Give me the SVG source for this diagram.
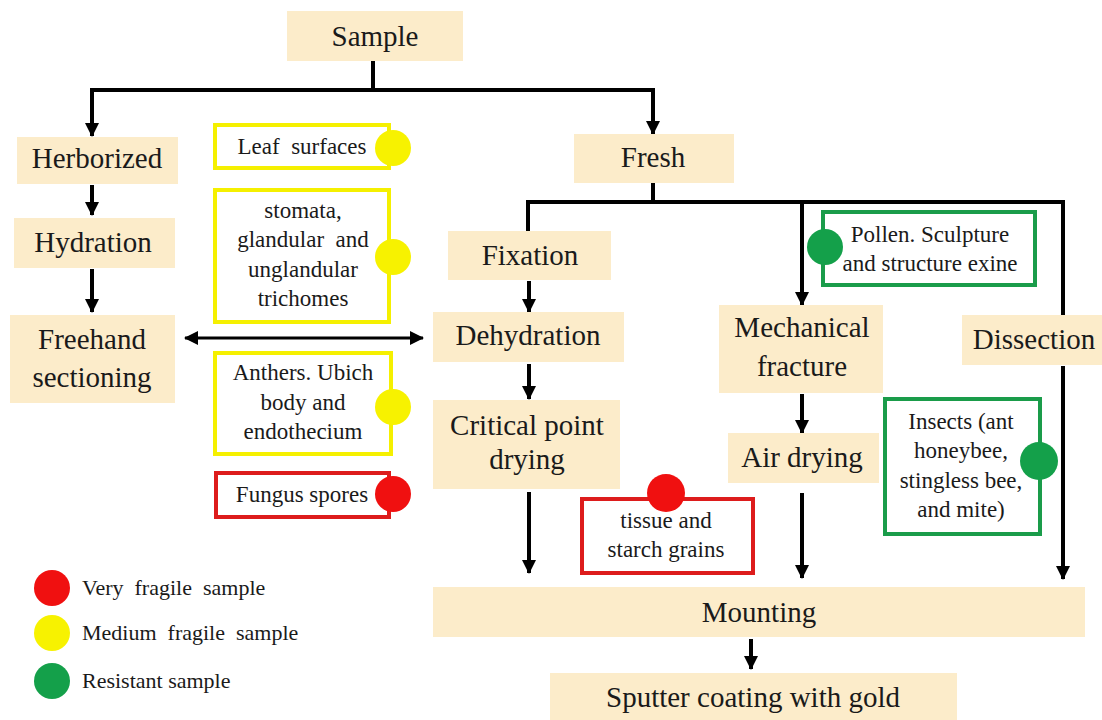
<svg xmlns="http://www.w3.org/2000/svg" width="1102" height="720" viewBox="0 0 1102 720">
<style>
text{font-family:"Liberation Serif","Times New Roman",serif;fill:#1a1a1a;text-anchor:middle;white-space:pre}
.b{font-size:29px}
.s{font-size:23px}
.lg{font-size:22px;text-anchor:start}
.box{fill:#fcecca}
.yb{fill:#fff;stroke:#f5f000;stroke-width:4}
.rb{fill:#fff;stroke:#dd1c1c;stroke-width:4}
.gb{fill:#fff;stroke:#1a9c4a;stroke-width:4}
.yc{fill:#f7f200}
.rc{fill:#f01010}
.gc{fill:#14a04a}
.c{fill:none;stroke:#000;stroke-width:4}
.c2{fill:none;stroke:#000;stroke-width:3}
</style>
<defs>
<marker id="ah" markerUnits="userSpaceOnUse" markerWidth="14" markerHeight="14" refX="13" refY="7" orient="auto-start-reverse" viewBox="0 0 14 14">
<path d="M0,0 L14,7 L0,14 z" fill="#000"/>
</marker>
</defs>
<rect width="1102" height="720" fill="#fff"/>
<g id="connectors">
<path class="c" d="M373,61 V90"/>
<path class="c" d="M373,90 H92 V136" marker-end="url(#ah)"/>
<path class="c" d="M373,90 H653 V134" marker-end="url(#ah)"/>
<path class="c" d="M92,185 V215" marker-end="url(#ah)"/>
<path class="c" d="M92,269 V312" marker-end="url(#ah)"/>
<path class="c2" d="M185,338 H423" marker-start="url(#ah)" marker-end="url(#ah)"/>
<path class="c" d="M653,183 V202"/>
<path class="c" d="M653,202 H528 V231"/>
<path class="c" d="M653,202 H1063 V316"/>
<path class="c" d="M802,202 V305" marker-end="url(#ah)"/>
<path class="c" d="M529,281 V312" marker-end="url(#ah)"/>
<path class="c" d="M529,364 V399" marker-end="url(#ah)"/>
<path class="c" d="M529,492 V573" marker-end="url(#ah)"/>
<path class="c" d="M802,394 V433" marker-end="url(#ah)"/>
<path class="c" d="M802,493 V578" marker-end="url(#ah)"/>
<path class="c" d="M1063,366 V579" marker-end="url(#ah)"/>
<path class="c" d="M751,639 V669" marker-end="url(#ah)"/>
</g>
<g id="sample"><rect class="box" x="287" y="11" width="176" height="50"/><text class="b" x="375" y="46">Sample</text></g>
<g id="herborized"><rect class="box" x="17" y="137" width="161" height="47"/><text class="b" x="97" y="168">Herborized</text></g>
<g id="hydration"><rect class="box" x="14" y="218" width="161" height="50"/><text class="b" x="93" y="252">Hydration</text></g>
<g id="freehand"><rect class="box" x="10" y="315" width="165" height="88"/><text class="b" x="92" y="349">Freehand</text><text class="b" x="92" y="387">sectioning</text></g>
<g id="leaf"><rect class="yb" x="215" y="125" width="174" height="43"/><circle class="yc" cx="393" cy="148" r="18"/><text class="s" x="302" y="154">Leaf  surfaces</text></g>
<g id="stomata"><rect class="yb" x="215" y="190" width="174" height="132"/><circle class="yc" cx="393" cy="257" r="18"/><text class="s" x="303" y="218">stomata,</text><text class="s" x="303" y="247">glandular  and</text><text class="s" x="303" y="277">unglandular</text><text class="s" x="303" y="306">trichomes</text></g>
<g id="anthers"><rect class="yb" x="215" y="353" width="176" height="101"/><circle class="yc" cx="393" cy="407" r="18"/><text class="s" x="303" y="380">Anthers. Ubich</text><text class="s" x="303" y="410">body and</text><text class="s" x="303" y="439">endothecium</text></g>
<g id="fungus"><rect class="rb" x="216" y="473" width="173" height="44"/><circle class="rc" cx="393" cy="494" r="18"/><text class="s" x="302" y="502">Fungus spores</text></g>
<g id="fresh"><rect class="box" x="574" y="134" width="160" height="49"/><text class="b" x="653" y="167">Fresh</text></g>
<g id="fixation"><rect class="box" x="448" y="231" width="163" height="49"/><text class="b" x="530" y="265">Fixation</text></g>
<g id="pollen"><rect class="gb" x="823" y="212" width="212" height="73"/><circle class="gc" cx="825" cy="247" r="18"/><text class="s" x="930" y="242">Pollen. Sculpture</text><text class="s" x="930" y="271">and structure exine</text></g>
<g id="dehydration"><rect class="box" x="433" y="312" width="191" height="50"/><text class="b" x="528" y="345">Dehydration</text></g>
<g id="mechanical"><rect class="box" x="719" y="305" width="164" height="88"/><text class="b" x="802" y="337">Mechanical</text><text class="b" x="802" y="376">fracture</text></g>
<g id="dissection"><rect class="box" x="962" y="315" width="140" height="50"/><text class="b" x="1034" y="349">Dissection</text></g>
<g id="critical"><rect class="box" x="433" y="400" width="187" height="89"/><text class="b" x="527" y="435">Critical point</text><text class="b" x="527" y="469">drying</text></g>
<g id="airdrying"><rect class="box" x="728" y="433" width="151" height="50"/><text class="b" x="802" y="467">Air drying</text></g>
<g id="insects"><rect class="gb" x="885" y="399" width="155" height="135"/><circle class="gc" cx="1039" cy="461" r="19"/><text class="s" x="961" y="429">Insects (ant</text><text class="s" x="961" y="458">honeybee,</text><text class="s" x="961" y="488">stingless bee,</text><text class="s" x="961" y="517">and mite)</text></g>
<g id="tissue"><rect class="rb" x="582" y="499" width="171" height="74"/><circle class="rc" cx="666" cy="493" r="19"/><text class="s" x="666" y="528">tissue and</text><text class="s" x="666" y="557">starch grains</text></g>
<g id="mounting"><rect class="box" x="433" y="587" width="652" height="50"/><text class="b" x="759" y="622">Mounting</text></g>
<g id="sputter"><rect class="box" x="550" y="673" width="407" height="47"/><text class="b" x="753" y="707">Sputter coating with gold</text></g>
<g id="legend">
<circle class="rc" cx="52" cy="588" r="18"/><text class="lg" x="82" y="595">Very  fragile  sample</text>
<circle class="yc" cx="52" cy="633" r="18"/><text class="lg" x="82" y="640">Medium  fragile  sample</text>
<circle class="gc" cx="52" cy="681" r="18"/><text class="lg" x="82" y="688">Resistant sample</text>
</g>
</svg>
